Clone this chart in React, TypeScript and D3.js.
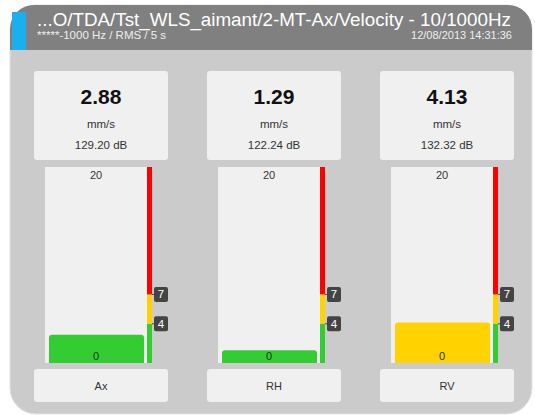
import React from "react";
import * as d3 from "d3";

// values
const channels = ["Ax", "RH", "RV"];
const values = [2.88, 1.29, 4.13];
const dbValues = [129.2, 122.24, 132.32];
const unit = "mm/s";
const thresholds = [4, 7];
const scaleMax = 20;
const zoneColors = ["#33cc33", "#ffd200", "#ff0000"];

const title = "...O/TDA/Tst_WLS_aimant/2-MT-Ax/Velocity - 10/1000Hz";
const subtitle = "*****-1000 Hz / RMS / 5 s";
const stamp = "12/08/2013 14:31:36";

const width = 535;
const height = 415;
const font = "'Liberation Sans', Arial, sans-serif";

export default function App() {
  const ref = React.useRef<SVGSVGElement>(null);

  React.useEffect(() => {
    const svg = d3.select(ref.current);
    svg.selectAll("*").remove();

    // outer panel + header
    svg.append("rect")
      .attr("x", 10).attr("y", 5).attr("width", 522).attr("height", 409)
      .attr("rx", 26).attr("fill", "#cbcbcb").attr("stroke", "#e2e2e2");

    const hx = 10, hy = 5, hw = 522, hh = 45, r = 24;
    svg.append("path")
      .attr("d", `M${hx},${hy + hh}V${hy + r}A${r},${r} 0 0 1 ${hx + r},${hy}H${hx + hw - r}A${r},${r} 0 0 1 ${hx + hw},${hy + r}V${hy + hh}Z`)
      .attr("fill", "#808080");
    svg.append("rect")
      .attr("x", 12).attr("y", 12).attr("width", 14).attr("height", 38)
      .attr("fill", "#1ab0ef");

    svg.append("text")
      .attr("x", 37).attr("y", 26)
      .attr("fill", "#fff").attr("font-size", 18.8).attr("font-family", font)
      .text(title);
    svg.append("text")
      .attr("x", 37).attr("y", 39)
      .attr("fill", "#eee").attr("font-size", 11.5).attr("font-family", font)
      .text(subtitle);
    svg.append("text")
      .attr("x", 512).attr("y", 39).attr("text-anchor", "end")
      .attr("fill", "#eee").attr("font-size", 11).attr("font-family", font)
      .text(stamp);

    const y = d3.scaleLinear().domain([0, scaleMax]).range([363, 167]);
    const color = d3.scaleThreshold<number, string>().domain(thresholds).range(zoneColors);
    const zones = [0, ...thresholds, scaleMax];

    const cols = svg.selectAll("g.col")
      .data(channels)
      .join("g")
      .attr("class", "col")
      .attr("transform", (d, i) => `translate(${34 + 173 * i},0)`);

    // value card
    cols.append("rect")
      .attr("x", 0).attr("y", 71).attr("width", 134).attr("height", 89)
      .attr("rx", 3).attr("fill", "#f0f0f0");
    cols.append("text")
      .attr("x", 67).attr("y", 104).attr("text-anchor", "middle")
      .attr("font-size", 21).attr("font-weight", "bold").attr("font-family", font).attr("fill", "#111")
      .text((d, i) => values[i].toFixed(2));
    cols.append("text")
      .attr("x", 67).attr("y", 128).attr("text-anchor", "middle")
      .attr("font-size", 11.5).attr("font-family", font).attr("fill", "#333")
      .text(unit);
    cols.append("text")
      .attr("x", 67).attr("y", 149).attr("text-anchor", "middle")
      .attr("font-size", 11.5).attr("font-family", font).attr("fill", "#333")
      .text((d, i) => `${dbValues[i].toFixed(2)} dB`);

    // gauge background
    cols.append("rect")
      .attr("x", 11).attr("y", y(scaleMax)).attr("width", 102).attr("height", y(0) - y(scaleMax))
      .attr("fill", "#f0f0f0");

    // bar
    cols.append("path")
      .attr("fill", (d, i) => color(values[i]))
      .attr("d", (d, i) => {
        const x0 = 15, x1 = 110, top = y(values[i]), bot = y(0), rr = 3;
        return `M${x0},${bot}V${top + rr}Q${x0},${top} ${x0 + rr},${top}H${x1 - rr}Q${x1},${top} ${x1},${top + rr}V${bot}Z`;
      });

    cols.append("text")
      .attr("x", 62).attr("y", 179).attr("text-anchor", "middle")
      .attr("font-size", 11).attr("font-family", font).attr("fill", "#333")
      .text(scaleMax);
    cols.append("text")
      .attr("x", 62).attr("y", 360).attr("text-anchor", "middle")
      .attr("font-size", 11).attr("font-family", font).attr("fill", "#1a3a1a")
      .text(0);

    // zone stripe
    cols.each(function () {
      const g = d3.select(this);
      d3.pairs(zones).forEach(([a, b], k) => {
        g.append("rect")
          .attr("x", 113).attr("y", y(b)).attr("width", 5).attr("height", y(a) - y(b))
          .attr("fill", zoneColors[k]);
      });
      thresholds.forEach(t => {
        g.append("line")
          .attr("x1", 118).attr("x2", 121).attr("y1", y(t)).attr("y2", y(t))
          .attr("stroke", "#444");
        g.append("rect")
          .attr("x", 120).attr("y", y(t) - 7.5).attr("width", 14).attr("height", 15)
          .attr("rx", 2).attr("fill", "#444");
        g.append("text")
          .attr("x", 127).attr("y", y(t) + 4).attr("text-anchor", "middle")
          .attr("font-size", 11.5).attr("font-family", font).attr("fill", "#fff")
          .text(t);
      });
    });

    // channel label card
    cols.append("rect")
      .attr("x", 0).attr("y", 369).attr("width", 134).attr("height", 33)
      .attr("rx", 3).attr("fill", "#f0f0f0");
    cols.append("text")
      .attr("x", 67).attr("y", 390).attr("text-anchor", "middle")
      .attr("font-size", 11).attr("font-family", font).attr("fill", "#333")
      .text(d => d);
  }, []);

  return (
    <svg ref={ref} width={width} height={height}
      style={{ position: "absolute", left: 0, top: 0, background: "#fff" }} />
  );
}
